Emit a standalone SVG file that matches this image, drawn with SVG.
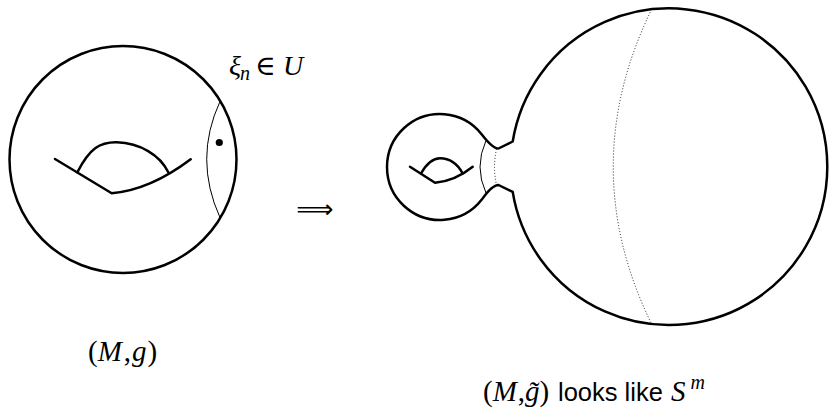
<svg xmlns="http://www.w3.org/2000/svg" width="829" height="415" viewBox="0 0 829 415">
<style>
.thick{fill:none;stroke:#000;stroke-width:2.5;stroke-linejoin:round;stroke-linecap:round}
.thin{fill:none;stroke:#000;stroke-width:1}
.dot{fill:none;stroke:#222;stroke-width:1;stroke-dasharray:1,2}
.math{font-family:"Liberation Serif","DejaVu Serif",serif;font-size:28px;fill:#000}
.big{font-size:29px}
.it{font-style:italic}
.sub{font-size:20px}
.sans{font-family:"Liberation Sans",Arial,sans-serif;font-size:25.5px;fill:#000}
</style>
<rect width="829" height="415" fill="#fff"/>
<g id="left-manifold">
<circle class="thick" cx="123" cy="159.5" r="113.5"/>
<path class="thick" d="M55,159 L111.7,193.3 Q150,190 190.7,159.3"/>
<path class="thick" d="M77.3,172.3 C90,148 100,142 116.7,142.3 C140,143 160,155 168.3,172.3"/>
<path class="thin" d="M220,101.5 Q193.4,159 220,217.5"/>
<circle cx="219.3" cy="142.5" r="3.6" fill="#000"/>
</g>
<g id="label-xi">
<text class="math" y="75"><tspan class="it" x="229">ξ</tspan><tspan class="it sub" x="240" dy="5">n</tspan><tspan x="255" dy="-5">∈</tspan><tspan class="it" x="283">U</tspan></text>
</g>
<g id="label-Mg">
<text class="math big" x="88" y="361">(<tspan class="it">M</tspan><tspan dx="2">,</tspan><tspan class="it" dx="1">g</tspan><tspan dx="1">)</tspan></text>
</g>
<g id="implies">
<text x="315" y="218" text-anchor="middle" font-family="DejaVu Sans,sans-serif" font-size="26">⟹</text>
</g>
<g id="right-manifold">
<path class="thick" d="M481.8,134.4 C486.7,140.7 493,148.5 498.5,148.5 L512.7,141.5 A158.3,158.3 0 1 1 512.7,191.9 L498.5,185 C493,185 486.7,192.6 481.8,199.6 A53,53 0 1 1 481.8,134.4 Z"/>
<path class="thick" d="M410,166.7 L435,182.7 Q455,181 472.7,166.7"/>
<path class="thick" d="M421,173.5 C427,163 433,158.3 440,158.3 C449,158.3 457,163 462.7,173.5"/>
<path class="thin" d="M486,140.5 Q474,167 486,193"/>
<path class="dot" d="M496.5,149 Q492.5,167 496.5,185"/>
<path class="dot" d="M651.5,9.5 Q575,167 651.5,323.9"/>
</g>
<g id="label-Mgt">
<text class="math big" x="483" y="401">(<tspan class="it">M</tspan><tspan dx="1">,</tspan><tspan class="it">g̃</tspan>)</text>
<text class="sans" x="558" y="401">looks like</text>
<text class="math big" x="671" y="401"><tspan class="it">S</tspan><tspan class="it sub" dx="5" dy="-12">m</tspan></text>
</g>
</svg>
